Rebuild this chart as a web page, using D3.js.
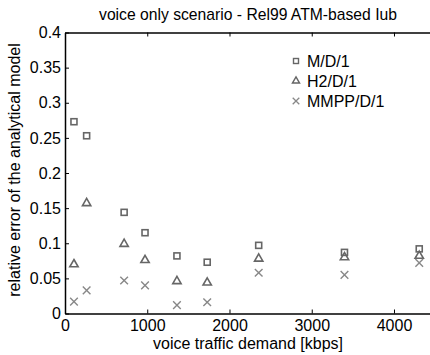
<!DOCTYPE html>
<html>
<head>
<meta charset="utf-8">
<script src="https://cdn.jsdelivr.net/npm/d3@7"></script>
<style>
  body { margin: 0; background: #fff; }
  text { font-family: "Liberation Sans", Arial, sans-serif; fill: #000; }
</style>
</head>
<body>
<svg id="chart" width="430" height="355"></svg>
<script>
// traffic demand [kbps] for each measurement
const demand = [109, 263, 719, 973, 1361, 1729, 2355, 3398, 4307]
// relative error of the analytical model, per model
const md1 = [0.273, 0.253, 0.144, 0.115, 0.082, 0.073, 0.097, 0.087, 0.092]
const h2d1 = [0.070, 0.157, 0.099, 0.076, 0.046, 0.044, 0.078, 0.080, 0.082]
const mmppd1 = [0.017, 0.033, 0.047, 0.040, 0.012, 0.016, 0.058, 0.055, 0.072]

const seriesNames = ["M/D/1", "H2/D/1", "MMPP/D/1"]
const xTicks = [0, 1000, 2000, 3000, 4000]
const yTicks = [0, 0.05, 0.1, 0.15, 0.2, 0.25, 0.3, 0.35, 0.4]

let svg = d3.select("#chart")
let mLeft = 65, mRight = 431, mTop = 32.5, mBottom = 313.5

let x = d3.scaleLinear().domain([0, 4450]).range([mLeft, mRight])
let y = d3.scaleLinear().domain([0, 0.4]).range([mBottom, mTop])

// axes, matlab style: ticks inside the box
svg.append("g")
    .attr("transform", "translate(0," + mBottom + ")")
    .call(d3.axisBottom(x).tickValues(xTicks).tickSizeInner(-4).tickSizeOuter(0).tickPadding(6.5)
        .tickFormat(d3.format("d")))
svg.append("g")
    .attr("transform", "translate(0," + mTop + ")")
    .call(d3.axisTop(x).tickValues(xTicks).tickSizeInner(-4).tickSizeOuter(0).tickFormat(""))
svg.append("g")
    .attr("transform", "translate(" + mLeft + ",0)")
    .call(d3.axisLeft(y).tickValues(yTicks).tickSizeInner(-4).tickSizeOuter(0).tickPadding(4)
        .tickFormat(d => String(+d.toFixed(2))))

svg.selectAll(".domain").attr("stroke", "#000").attr("stroke-width", 1.5)
svg.selectAll(".tick line").attr("stroke", "#000")
svg.selectAll(".tick text").style("font-size", "16px").attr("fill", "#000")

// points
let sq = 6
svg.append("g").selectAll("rect")
    .data(demand.map((d, i) => [d, md1[i]]))
    .join("rect")
    .attr("x", d => x(d[0]) - sq / 2)
    .attr("y", d => y(d[1]) - sq / 2)
    .attr("width", sq).attr("height", sq)
    .attr("fill", "none").attr("stroke", "#666").attr("stroke-width", 1.6)

let tri = d3.symbol().type(d3.symbolTriangle).size(30)
svg.append("g").selectAll("path")
    .data(demand.map((d, i) => [d, h2d1[i]]))
    .join("path")
    .attr("d", tri)
    .attr("transform", d => "translate(" + x(d[0]) + "," + y(d[1]) + ")")
    .attr("fill", "none").attr("stroke", "#666").attr("stroke-width", 1.6)

let cross = d3.symbol().type(d3.symbolX).size(40)
svg.append("g").selectAll("path")
    .data(demand.map((d, i) => [d, mmppd1[i]]))
    .join("path")
    .attr("d", cross)
    .attr("transform", d => "translate(" + x(d[0]) + "," + y(d[1]) + ")")
    .attr("fill", "none").attr("stroke", "#888").attr("stroke-width", 1.4)

// legend
let legend = svg.append("g").attr("transform", "translate(296,61)")
let lg = legend.selectAll("g").data(seriesNames).join("g")
    .attr("transform", (d, i) => "translate(0," + i * 20 + ")")
lg.filter((d, i) => i === 0).append("rect")
    .attr("x", -2.5).attr("y", -2.5).attr("width", 5).attr("height", 5)
    .attr("fill", "none").attr("stroke", "#666").attr("stroke-width", 1.4)
lg.filter((d, i) => i === 1).append("path")
    .attr("d", d3.symbol().type(d3.symbolTriangle).size(22))
    .attr("fill", "none").attr("stroke", "#666").attr("stroke-width", 1.4)
lg.filter((d, i) => i === 2).append("path")
    .attr("d", d3.symbol().type(d3.symbolX).size(30))
    .attr("fill", "none").attr("stroke", "#888").attr("stroke-width", 1.3)
lg.append("text").attr("x", 11).attr("y", 6).style("font-size", "16px").text(d => d)

// titles
svg.append("text").attr("x", 248).attr("y", 19.5).attr("text-anchor", "middle")
    .style("font-size", "15.7px").text("voice only scenario - Rel99 ATM-based Iub")
svg.append("text").attr("x", 248).attr("y", 349).attr("text-anchor", "middle")
    .style("font-size", "16px").text("voice traffic demand [kbps]")
svg.append("text").attr("transform", "translate(20,170) rotate(-90)").attr("text-anchor", "middle")
    .style("font-size", "16px").text("relative error of the analytical model")
</script>
</body>
</html>
